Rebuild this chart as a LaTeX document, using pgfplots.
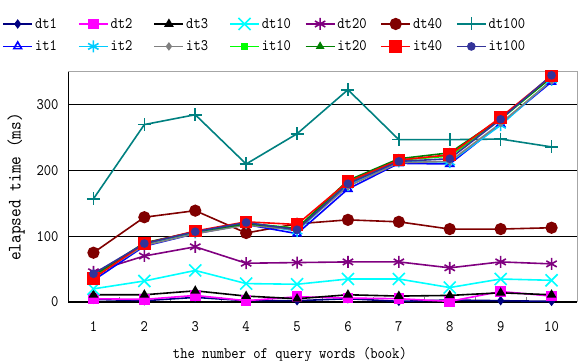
\documentclass[border=0pt]{standalone}
\usepackage{fontspec}
\newfontfamily\mincho{lmmono10-regular}[Extension=.otf, FakeStretch=0.87]
\usepackage{pgfplots}
\pgfplotsset{compat=1.18}
\definecolor{cnavy}{RGB}{0,0,128}
\definecolor{cmag}{RGB}{255,0,255}
\definecolor{ccyan}{RGB}{0,255,255}
\definecolor{cpurple}{RGB}{128,0,128}
\definecolor{cdred}{RGB}{128,0,0}
\definecolor{cteal}{RGB}{0,128,128}
\definecolor{cblue}{RGB}{0,0,255}
\definecolor{csky}{RGB}{0,204,255}
\definecolor{cgray}{RGB}{128,128,128}
\definecolor{clime}{RGB}{0,255,0}
\definecolor{cgreen}{RGB}{0,128,0}
\definecolor{cred}{RGB}{255,0,0}
\definecolor{cind}{RGB}{51,51,153}
\pgfplotsset{
  legend image code/.code={\draw[mark repeat=2,mark phase=2,#1] plot coordinates {(0pt,0pt)(14.5pt,0pt)(29pt,0pt)};},
}
\newcommand{\lgE}[1]{\makebox[41pt][l]{#1}}
\begin{document}
\begin{tikzpicture}[font=\mincho]
\begin{axis}[
  scale only axis, width=509pt, height=230pt,
  at={(68pt,59pt)}, anchor=south west,
  xmin=0.5, xmax=10.5, ymin=0, ymax=350,
  clip=false,
  font=\mincho\fontsize{16}{18}\selectfont,
  /pgf/number format/assume math mode=true,
  axis x line*=bottom, axis y line*=left,
  axis line style={black, line width=1pt},
  xtick={1,...,10},
  minor xtick={1.5,2.5,...,9.5},
  major x tick style={draw=none},
  minor tick length=5pt,
  tick align=inside,
  ytick={0,100,200,300},
  major y tick style={draw=none},
  ymajorgrids, major grid style={black, line width=0.8pt},
  xticklabel style={yshift=-16pt},
  yticklabel style={xshift=-6pt},
  xlabel={the number of query words (book)},
  xlabel style={at={(axis description cs:0.436,-0.23)}, anchor=center},
  ylabel={elapsed time (ms)},
  ylabel style={at={(axis description cs:-0.102,0.5)}, anchor=center, font=\mincho\fontsize{19}{21}\selectfont},
  every axis plot/.append style={line width=1.6pt, mark options={solid}},
  legend columns=7,
  legend cell align=left,
  legend style={draw=none, fill=none, at={(axis description cs:0.391,1.16)}, anchor=center,
    column sep=0pt, row sep=7pt, nodes={inner xsep=2pt}, font=\mincho\fontsize{16}{18}\selectfont},
]
\addplot[cnavy, mark=diamond*, mark size=3.5pt] coordinates {(1,4)(2,2)(3,7)(4,2)(5,2)(6,5)(7,1)(8,3)(9,2)(10,1)};
\addlegendentry{\lgE{dt1}}
\addplot[cmag, mark=square*, mark size=4.5pt] coordinates {(1,5)(2,4)(3,10)(4,2)(5,8)(6,6)(7,5)(8,1)(9,16)(10,9)};
\addlegendentry{\lgE{dt2}}
\addplot[black, mark=triangle*, mark size=4pt] coordinates {(1,11)(2,11)(3,17)(4,9)(5,5)(6,11)(7,9)(8,10)(9,14)(10,11)};
\addlegendentry{\lgE{dt3}}
\addplot[ccyan, mark=x, mark size=8.5pt] coordinates {(1,20)(2,32)(3,48)(4,28)(5,27)(6,35)(7,35)(8,22)(9,35)(10,33)};
\addlegendentry{\lgE{dt10}}
\addplot[cpurple, mark=asterisk, mark size=6pt] coordinates {(1,46)(2,70)(3,84)(4,59)(5,60)(6,61)(7,61)(8,52)(9,61)(10,58)};
\addlegendentry{\lgE{dt20}}
\addplot[cdred, mark=*, mark size=5.3pt] coordinates {(1,75)(2,129)(3,139)(4,105)(5,119)(6,125)(7,122)(8,111)(9,111)(10,113)};
\addlegendentry{\lgE{dt40}}
\addplot[cteal, mark=+, mark size=6.5pt] coordinates {(1,157)(2,270)(3,285)(4,210)(5,256)(6,323)(7,247)(8,247)(9,248)(10,236)};
\addlegendentry{\lgE{dt100}}
\addplot[cblue, mark=triangle, mark size=4.5pt] coordinates {(1,33)(2,85)(3,104)(4,118)(5,104)(6,172)(7,211)(8,210)(9,271)(10,335)};
\addlegendentry{\lgE{it1}}
\addplot[csky, mark=asterisk, mark size=6pt] coordinates {(1,40)(2,88)(3,106)(4,120)(5,108)(6,178)(7,214)(8,213)(9,269)(10,338)};
\addlegendentry{\lgE{it2}}
\addplot[cgray, mark=diamond*, mark size=3pt] coordinates {(1,38)(2,86)(3,104)(4,117)(5,110)(6,176)(7,212)(8,214)(9,272)(10,337)};
\addlegendentry{\lgE{it3}}
\addplot[clime, mark=square*, mark size=3pt] coordinates {(1,39)(2,89)(3,107)(4,120)(5,112)(6,182)(7,216)(8,222)(9,278)(10,342)};
\addlegendentry{\lgE{it10}}
\addplot[cgreen, mark=triangle*, mark size=3.5pt] coordinates {(1,40)(2,90)(3,107)(4,119)(5,112)(6,185)(7,218)(8,227)(9,279)(10,342)};
\addlegendentry{\lgE{it20}}
\addplot[cred, mark=square*, mark size=5.5pt] coordinates {(1,36)(2,89)(3,108)(4,122)(5,118)(6,183)(7,216)(8,224)(9,281)(10,344)};
\addlegendentry{\lgE{it40}}
\addplot[cind, mark=*, mark size=3.5pt] coordinates {(1,43)(2,89)(3,107)(4,121)(5,110)(6,180)(7,214)(8,218)(9,278)(10,345)};
\addlegendentry{\lgE{it100}}
\draw[gray!70, line width=1pt] (rel axis cs:0,1) -- (rel axis cs:1,1) -- (rel axis cs:1,0);
\end{axis}
\pgfresetboundingbox
\path[use as bounding box] (0,0) rectangle (578pt,361pt);
\end{tikzpicture}
\end{document}
